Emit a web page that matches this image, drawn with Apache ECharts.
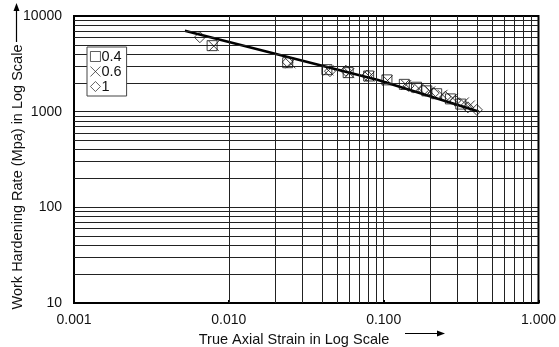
<!DOCTYPE html>
<html><head><meta charset="utf-8">
<script src="https://cdn.jsdelivr.net/npm/echarts@6/dist/echarts.min.js"></script>
<style>html,body{margin:0;padding:0;background:#fff}#c{width:559px;height:347px}</style>
</head><body><div id="c"></div>
<script>
// Series: strain rate label -> (true axial strain, work hardening rate MPa)
const strain04 = [0.0078, 0.024, 0.043, 0.059, 0.080, 0.105, 0.136, 0.163, 0.19, 0.22, 0.27, 0.315];
const rate04   = [4900, 3250, 2750, 2560, 2360, 2150, 1930, 1800, 1650, 1540, 1360, 1200];
const strain06 = [0.0080, 0.025, 0.044, 0.060, 0.081, 0.106, 0.14, 0.168, 0.20, 0.24, 0.28, 0.33, 0.36];
const rate06   = [4850, 3200, 2700, 2530, 2330, 2120, 1900, 1760, 1630, 1500, 1380, 1250, 1160];
const strain1  = [0.0065, 0.024, 0.045, 0.057, 0.078, 0.145, 0.18, 0.21, 0.25, 0.29, 0.35, 0.40];
const rate1    = [6000, 3300, 2650, 2680, 2380, 1860, 1680, 1560, 1430, 1300, 1110, 1045];
// Fitted line read points
const fitStrain = [0.0052, 0.092, 0.41];
const fitRate   = [7000, 2140, 1005];
const seriesNames = ['0.4', '0.6', '1'];
const xTickLabels = ['0.001', '0.010', '0.100', '1.000'];
const yTickLabels = ['10', '100', '1000', '10000'];

const pairs = (xs, ys) => xs.map((x, i) => [x, ys[i]]);
// minor grid positions (2..9 within each decade)
const minorX = [], minorY = [];
[0.001, 0.01, 0.1].forEach(d => { for (let m = 2; m <= 9; m++) minorX.push(+(m * d).toPrecision(3)); });
[10, 100, 1000].forEach(d => { for (let m = 2; m <= 9; m++) minorY.push(m * d); });

const FONT = 'Liberation Sans, Arial, sans-serif';
const chart = echarts.init(document.getElementById('c'), null, {renderer: 'canvas'});
const hollow = {color: 'rgba(255,255,255,0)', borderColor: '#111', borderWidth: 1};
chart.setOption({
  animation: false,
  backgroundColor: '#fff',
  grid: {left: 74, right: 19, top: 16, bottom: 44, show: true, borderColor: '#000', borderWidth: 2, backgroundColor: 'transparent', z: 5},
  xAxis: {
    type: 'log', logBase: 10, min: 0.001, max: 1,
    axisLine: {show: false},
    axisTick: {show: true, inside: true, length: 3, lineStyle: {color: '#000', width: 2}},
    axisLabel: {margin: 10, fontFamily: FONT, fontSize: 14, color: '#111',
      formatter: v => { const i = Math.round(Math.log10(v)) + 3; return xTickLabels[i]; }},
    splitLine: {show: true, lineStyle: {color: '#222', width: 1}}
  },
  yAxis: {
    type: 'log', logBase: 10, min: 10, max: 10000,
    axisLine: {show: false},
    axisTick: {show: false},
    axisLabel: {margin: 12, fontFamily: FONT, fontSize: 14, color: '#111',
      formatter: v => { const i = Math.round(Math.log10(v)) - 1; return yTickLabels[i]; }},
    splitLine: {show: true, lineStyle: {color: '#222', width: 1}}
  },
  legend: {
    orient: 'vertical', left: 87, top: 47,
    data: seriesNames,
    backgroundColor: '#fff', borderColor: '#444', borderWidth: 1,
    padding: [2, 5, 2, 3], itemGap: 0, itemWidth: 10, itemHeight: 10,
    itemStyle: {borderWidth: 0.9, borderColor: '#222'},
    textStyle: {fontFamily: FONT, fontSize: 14.5, color: '#111', padding: [0, 0, 0, -4], lineHeight: 15},
    z: 10
  },
  series: [
    {type: 'line', name: 'grid', silent: true, data: [], markLine: {
      silent: true, symbol: 'none', label: {show: false},
      lineStyle: {color: '#222', width: 1, type: 'solid'},
      data: minorX.map(v => ({xAxis: v})).concat(minorY.map(v => ({yAxis: v})))
    }, z: 1},
    {type: 'line', name: 'fit', data: pairs(fitStrain, fitRate), symbol: 'none',
      lineStyle: {color: '#000', width: 2.5}, z: 4},
    {type: 'scatter', name: '0.4', data: pairs(strain04, rate04), symbol: 'rect', symbolSize: 10, itemStyle: hollow, z: 6},
    {type: 'scatter', name: '0.6', data: pairs(strain06, rate06), symbol: 'path://M0,0L10,10M10,0L0,10', symbolSize: 10, itemStyle: hollow, z: 6},
    {type: 'scatter', name: '1', data: pairs(strain1, rate1), symbol: 'diamond', symbolSize: 11, itemStyle: hollow, z: 6}
  ],
  graphic: [
    {type: 'text', x: 18, y: 177, rotation: Math.PI / 2, style: {text: 'Work Hardening Rate (Mpa) in Log Scale', font: '14.5px ' + FONT, fill: '#111', align: 'center', verticalAlign: 'middle'}},
    {type: 'line', shape: {x1: 16.5, y1: 42, x2: 16.5, y2: 9}, style: {stroke: '#000', lineWidth: 1.2}},
    {type: 'polygon', shape: {points: [[16.5, 3], [13.5, 11], [19.5, 11]]}, style: {fill: '#000'}},
    {type: 'text', x: 294, y: 340, style: {text: 'True Axial Strain in Log Scale', font: '14.5px ' + FONT, fill: '#111', align: 'center', verticalAlign: 'middle'}},
    {type: 'line', shape: {x1: 405, y1: 333.5, x2: 438, y2: 333.5}, style: {stroke: '#000', lineWidth: 1.2}},
    {type: 'polygon', shape: {points: [[445, 333.5], [437, 330.5], [437, 336.5]]}, style: {fill: '#000'}}
  ]
});
</script></body></html>
